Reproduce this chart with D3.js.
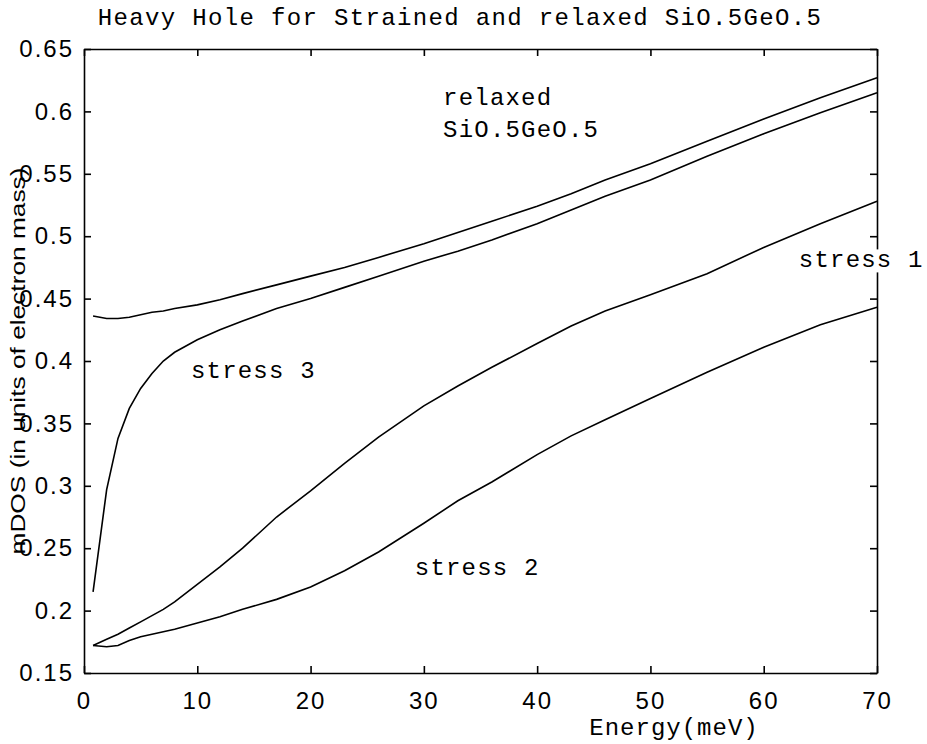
<!DOCTYPE html>
<html><head><meta charset="utf-8">
<script src="https://cdn.jsdelivr.net/npm/d3@7"></script>
<style>body{margin:0;background:#fff}svg{display:block}</style>
</head><body>
<svg id="c" width="927" height="744"></svg>
<script>
const energy = [0.8,2,3,4,5,6,7,8,10,12,14,17,20,23,26,30,33,36,40,43,46,50,55,60,65,70];
const relaxed = [0.436,0.434,0.434,0.435,0.437,0.439,0.440,0.442,0.445,0.449,0.454,0.461,0.468,0.475,0.483,0.494,0.503,0.512,0.524,0.534,0.545,0.558,0.576,0.594,0.611,0.627];
const stress3 = [0.215,0.297,0.338,0.362,0.378,0.390,0.400,0.407,0.417,0.425,0.432,0.442,0.450,0.459,0.468,0.480,0.488,0.497,0.510,0.521,0.532,0.545,0.564,0.582,0.599,0.615];
const stress1 = [0.172,0.177,0.181,0.186,0.191,0.196,0.201,0.207,0.221,0.235,0.250,0.275,0.296,0.318,0.339,0.364,0.380,0.395,0.414,0.428,0.440,0.453,0.470,0.491,0.510,0.528];
const stress2 = [0.172,0.171,0.172,0.176,0.179,0.181,0.183,0.185,0.190,0.195,0.201,0.209,0.219,0.232,0.247,0.270,0.288,0.303,0.325,0.340,0.353,0.370,0.391,0.411,0.429,0.443];
const xTicks = [0,10,20,30,40,50,60,70];
const yTicks = [0.15,0.2,0.25,0.3,0.35,0.4,0.45,0.5,0.55,0.6,0.65];
const series = [relaxed, stress3, stress1, stress2];
const annoText = ["relaxed","SiO.5GeO.5","stress 3","stress 2","stress 1"];
const annoX = [31.7, 31.7, 9.44, 29.2, 63.1];
const annoY = [0.605, 0.5795, 0.386, 0.2285, 0.475];
const annoBg = [false,false,false,false,true];

const L=84, R=877, T=49, B=673;
const svg = d3.select("#c");
const x = d3.scaleLinear().domain([0,70]).range([L,R]);
const y = d3.scaleLinear().domain([0.15,0.65]).range([B,T]);
const tickFont = "'Liberation Sans', Arial, sans-serif";
const monoFont = "'Liberation Mono', 'Courier New', monospace";

// curves
const line = d3.line().x((d,i)=>x(energy[i])).y(d=>y(d));
svg.selectAll("path.curve").data(series).join("path")
  .attr("class","curve").attr("d",line)
  .attr("fill","none").attr("stroke","#000").attr("stroke-width",1.6);

// axes with inward ticks
const axB = d3.axisBottom(x).tickValues(xTicks).tickSizeInner(-7).tickSizeOuter(0).tickPadding(19).tickFormat(d3.format("d"));
const axT = d3.axisTop(x).tickValues(xTicks).tickSizeInner(-7).tickSizeOuter(0).tickFormat("");
const axL = d3.axisLeft(y).tickValues(yTicks).tickSizeInner(-7).tickSizeOuter(0).tickPadding(10).tickFormat(d=>String(+d.toFixed(2)));
const axR = d3.axisRight(y).tickValues(yTicks).tickSizeInner(-7).tickSizeOuter(0).tickFormat("");

function style(g){
  g.select(".domain").attr("stroke","#000").attr("stroke-width",1.6);
  g.selectAll(".tick line").attr("stroke","#000").attr("stroke-width",1.6);
  g.selectAll(".tick text").attr("fill","#000").attr("font-family",tickFont).attr("font-size",24).attr("letter-spacing",2);
}
svg.append("g").attr("transform",`translate(0,${B})`).call(axB).call(style);
svg.append("g").attr("transform",`translate(0,${T})`).call(axT).call(style);
svg.append("g").attr("transform",`translate(${R},0)`).call(axR).call(style);

// annotations (stress 1 has a white background covering the right axis)
annoText.forEach((txt,i)=>{
  const g = svg.append("g");
  const t = g.append("text").attr("x",x(annoX[i])).attr("y",y(annoY[i]))
    .attr("font-family",monoFont).attr("font-size",24).attr("letter-spacing",1.2)
    .attr("fill","#000").text(txt);
  if(annoBg[i]){
    const bb = t.node().getBBox();
    g.insert("rect",()=>t.node()).attr("x",bb.x-2).attr("y",bb.y+2).attr("width",bb.width+4).attr("height",bb.height-4).attr("fill","#fff");
  }
});

// y label, drawn before the left axis labels so both show
svg.append("text").attr("transform","translate(25,361) rotate(-90)")
  .attr("text-anchor","middle").attr("font-family",tickFont).attr("font-size",21)
  .attr("textLength",387).attr("lengthAdjust","spacingAndGlyphs")
  .attr("fill","#000").text("mDOS (in units of electron mass)");
svg.append("g").attr("transform",`translate(${L},0)`).call(axL).call(style);

// title and x label
svg.append("text").attr("x",460).attr("y",25).attr("text-anchor","middle")
  .attr("font-family",monoFont).attr("font-size",24).attr("letter-spacing",1.35)
  .attr("fill","#000").text("Heavy Hole for Strained and relaxed SiO.5GeO.5");
svg.append("text").attr("x",674).attr("y",735).attr("text-anchor","middle")
  .attr("font-family",monoFont).attr("font-size",24).attr("letter-spacing",1.0)
  .attr("fill","#000").text("Energy(meV)");
</script>
</body></html>
